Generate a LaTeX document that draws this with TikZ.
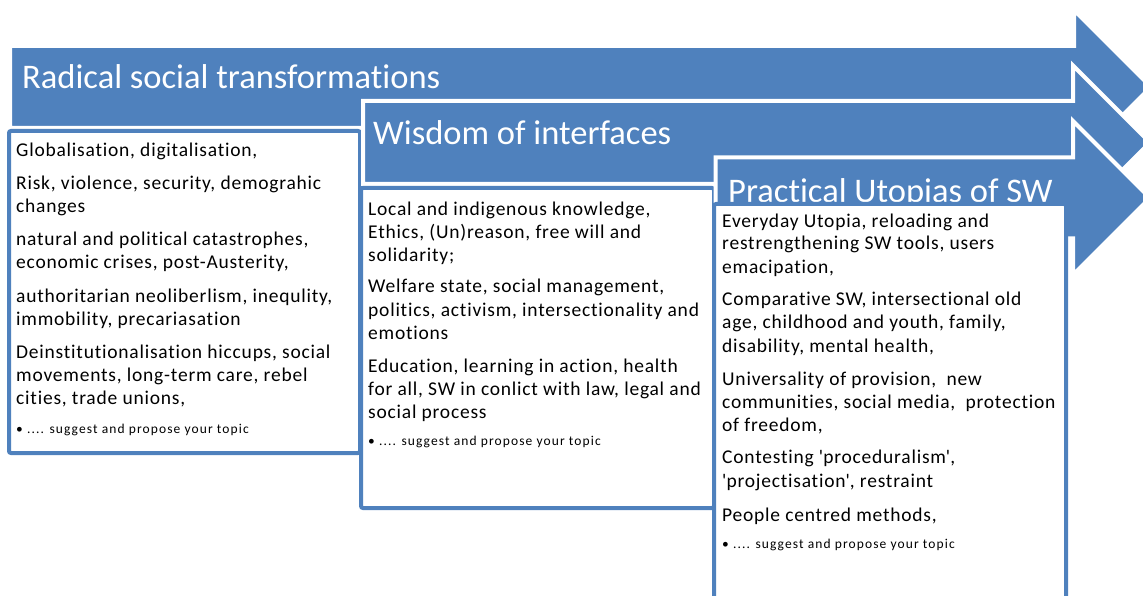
\documentclass[tikz,border=0pt]{standalone}
\usepackage{fontspec}
\setmainfont{Carlito}[Ligatures={TeX,NoCommon}]
\newfontfamily\bodyfont{Carlito}[Ligatures={TeX,NoCommon},LetterSpace=4]
\newfontfamily\smallfont{Carlito}[Ligatures={TeX,NoCommon},LetterSpace=8.2]
\definecolor{ofblue}{HTML}{4F81BD}
\begin{document}
\begin{tikzpicture}[x=1pt,y=-1pt,
  arrowshape/.style={fill=ofblue,draw=white,line width=4pt,line join=miter},
  textbox/.style={fill=white,draw=ofblue,line width=4pt,rounded corners=2pt},
  titletext/.style={text=white,font=\fontsize{34.5}{40}\selectfont,anchor=base west,inner sep=0pt},
  bodytext/.style={font=\bodyfont\fontsize{19.5}{23}\selectfont,anchor=base west,inner sep=0pt},
  smalltext/.style={font=\smallfont\fontsize{13.5}{16}\selectfont,anchor=base west,inner sep=0pt}]
\useasboundingbox (0,0) rectangle (1143,596);
\clip (0,0) rectangle (1143,596);
% ---------- arrow 1 and box 1
\draw[arrowshape] (10,46) -- (1074,46) -- (1074,10) -- (1151,87) -- (1074,164) -- (1074,128) -- (10,128) -- cycle;
\node[titletext] (t1) at (22,89) {Radical social transformations};
\draw[textbox] (9,131) rectangle (360,453);
\node[bodytext] (a1) at (16,157) {Globalisation, digitalisation,};
\node[bodytext] (a2) at (16,190) {Risk, violence, security, demograhic};
\node[bodytext] (a3) at (16,213) {changes};
\node[bodytext] (a4) at (16,245) {natural and political catastrophes,};
\node[bodytext] (a5) at (16,268) {economic crises, post-Austerity,};
\node[bodytext] (a6) at (16,302) {authoritarian neoliberlism, inequlity,};
\node[bodytext] (a7) at (16,325) {immobility, precariasation};
\node[bodytext] (a8) at (16,358) {Deinstitutionalisation hiccups, social};
\node[bodytext] (a9) at (16,381) {movements, long-term care, rebel};
\node[bodytext] (a10) at (16,404) {cities, trade unions,};
\node[smalltext] (a11) at (16,433) {• .... suggest and propose your topic};
% ---------- arrow 2 and box 2
\draw[arrowshape] (363,101) -- (1073,101) -- (1073,65.5) -- (1150,142.5) -- (1073,219.5) -- (1073,184) -- (363,184) -- cycle;
\node[titletext] (t2) at (373,145) {Wisdom of interfaces};
\draw[textbox] (361,188) rectangle (714,508);
\node[bodytext] (b1) at (368,215) {Local and indigenous knowledge,};
\node[bodytext] (b2) at (368,238) {Ethics, (Un)reason, free will and};
\node[bodytext] (b3) at (368,261) {solidarity;};
\node[bodytext] (b4) at (368,292) {Welfare state, social management,};
\node[bodytext] (b5) at (368,316) {politics, activism, intersectionality and};
\node[bodytext] (b6) at (368,339) {emotions};
\node[bodytext] (b7) at (368,372) {Education, learning in action, health};
\node[bodytext] (b8) at (368,395) {for all, SW in conlict with law, legal and};
\node[bodytext] (b9) at (368,418) {social process};
\node[smalltext] (b10) at (368,445) {• .... suggest and propose your topic};
% ---------- arrow 3 and box 3
\draw[arrowshape] (715.5,157.5) -- (1073,157.5) -- (1073,121) -- (1150,198) -- (1073,275) -- (1073,238.5) -- (715.5,238.5) -- cycle;
\node[titletext] (t3) at (728,203) {Practical Utopias of SW};
\draw[textbox] (714,204) rectangle (1066,620);
\node[bodytext] (c1) at (722,227) {Everyday Utopia, reloading and};
\node[bodytext] (c2) at (722,250) {restrengthening SW tools, users};
\node[bodytext] (c3) at (722,273) {emacipation,};
\node[bodytext] (c4) at (722,305) {Comparative SW, intersectional old};
\node[bodytext] (c5) at (722,328) {age, childhood and youth, family,};
\node[bodytext] (c6) at (722,352) {disability, mental health,};
\node[bodytext] (c7) at (722,385) {Universality of provision,\ \ new};
\node[bodytext] (c8) at (722,408) {communities, social media,\ \ protection};
\node[bodytext] (c9) at (722,431) {of freedom,};
\node[bodytext] (c10) at (722,463) {Contesting \textquotesingle proceduralism\textquotesingle,};
\node[bodytext] (c11) at (722,487) {\textquotesingle projectisation\textquotesingle, restraint};
\node[bodytext] (c12) at (722,521) {People centred methods,};
\node[smalltext] (c13) at (722,548) {• .... suggest and propose your topic};
\end{tikzpicture}
\end{document}
